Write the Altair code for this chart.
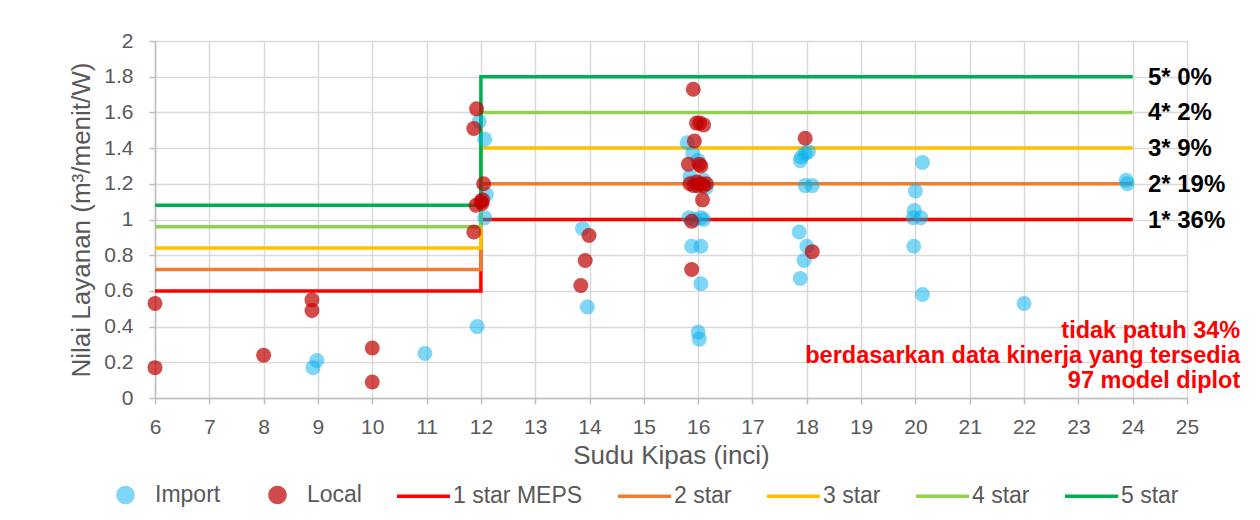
import math
import altair as alt
import pandas as pd

# ---------------- data ----------------
import_x = [8.91, 8.98, 10.97, 11.93, 11.97, 12.07, 12.10, 12.07,
            13.87, 13.96,
            15.80, 15.90, 16.00, 15.85, 16.15, 15.92, 16.10, 15.83, 15.93, 16.05, 16.10,
            15.88, 16.05, 16.05, 16.00, 16.02,
            17.97, 17.90, 17.88, 18.03, 17.97, 18.10, 17.86, 18.00, 17.95, 17.88,
            20.13, 20.00, 19.98, 19.96, 20.10, 19.97, 20.13,
            22.00,
            23.88, 23.90]
import_y = [0.17, 0.21, 0.25, 0.40, 1.55, 1.45, 1.14, 1.01,
            0.95, 0.51,
            1.43, 1.37, 1.33, 1.24, 1.18, 1.21, 1.22, 1.01, 1.00, 1.01, 1.00,
            0.85, 0.85, 0.64, 0.37, 0.33,
            1.37, 1.35, 1.33, 1.38, 1.19, 1.19, 0.93, 0.85, 0.77, 0.67,
            1.32, 1.16, 1.05, 1.01, 1.01, 0.85, 0.58,
            0.53,
            1.22, 1.20]

local_x = [6.00, 6.00, 8.00, 8.89, 8.89, 10.00, 10.00,
           11.92, 11.87, 12.05, 12.00, 12.03, 12.02, 11.91, 11.87,
           13.99, 13.92, 13.84,
           15.91, 15.97, 16.03, 16.10, 15.93, 15.82, 16.02, 16.05, 15.85, 15.92,
           15.98, 16.05, 16.10, 16.15, 16.00, 16.08, 15.88, 15.88,
           17.97, 18.10]
local_y = [0.53, 0.17, 0.24, 0.55, 0.49, 0.28, 0.09,
           1.62, 1.51, 1.20, 1.10, 1.11, 1.09, 1.08, 0.93,
           0.91, 0.77, 0.63,
           1.73, 1.54, 1.54, 1.53, 1.44, 1.31, 1.31, 1.30, 1.20, 1.19,
           1.21, 1.20, 1.19, 1.20, 1.19, 1.11, 0.99, 0.72,
           1.455, 0.82]

point_names = ["Import", "Local"]
point_colors = ["#00B0F0", "#C00000"]
point_opacity = [0.5, 0.7]

star_names = ["1 star MEPS", "2 star", "3 star", "4 star", "5 star"]
star_colors = ["#FF0000", "#ED7D31", "#FFC000", "#92D050", "#00B050"]
small_fan_limit = [0.60, 0.72, 0.84, 0.96, 1.08]   # fans up to 12 inci
large_fan_limit = [1.00, 1.20, 1.40, 1.60, 1.80]   # fans 12 - 24 inci
step_x = [6, 12, 12, 24]
star_labels = ["1* 36%", "2* 19%", "3* 9%", "4* 2%", "5* 0%"]
note_lines = ["tidak patuh 34%", "berdasarkan data kinerja yang tersedia", "97 model diplot"]

x_ticks = list(range(6, 26))
y_ticks = [0, 0.2, 0.4, 0.6, 0.8, 1, 1.2, 1.4, 1.6, 1.8, 2]
x_title = "Sudu Kipas (inci)"
y_title = "Nilai Layanan (m³/menit/W)"

# ---------------- tables ----------------
points = pd.DataFrame({
    "size": import_x + local_x,
    "value": import_y + local_y,
    "series": ["Import"] * len(import_x) + ["Local"] * len(local_x),
})

rows = []
for i, name in enumerate(star_names):
    ys = [small_fan_limit[i], small_fan_limit[i], large_fan_limit[i], large_fan_limit[i]]
    for k, (xv, yv) in enumerate(zip(step_x, ys)):
        rows.append({"size": xv, "value": yv, "series": name, "step": k})
lines = pd.DataFrame(rows)

labels = pd.DataFrame({"value": large_fan_limit, "label": star_labels})

FONT = "Liberation Sans"
GREY = "#595959"

x_scale = alt.Scale(domain=[6, 25], nice=False, zero=False)
y_scale = alt.Scale(domain=[0, 2], nice=False, zero=False)
x_axis = alt.Axis(values=x_ticks, labelFlush=False, tickSize=6, labelPadding=12,
                  titlePadding=5, labelOverlap=False)
y_axis = alt.Axis(values=y_ticks, labelExpr="format(datum.value, '~g')", tickSize=6,
                  labelPadding=16, titlePadding=9, labelOverlap=False)


def xf(field):
    return alt.X(field, type="quantitative", scale=x_scale, axis=x_axis, title=x_title)


def yf(field):
    return alt.Y(field, type="quantitative", scale=y_scale, axis=y_axis, title=y_title)


# legend: circle path for the point entries, stroke for the lines
r = 0.283
n = 36
circle_path = "M" + "L".join(
    f"{r*math.cos(2*math.pi*k/n):.4f},{r*math.sin(2*math.pi*k/n):.4f}" for k in range(n)) + "Z"
is_pt = "(datum.value === 'Import' || datum.value === 'Local')"

legend = alt.Legend(
    title=None, orient="none", direction="horizontal", legendX=-58, legendY=425.5,
    symbolSize=2809, symbolStrokeWidth=3.5, symbolOffset=0,
    symbolType={"expr": f"{is_pt} ? '{circle_path}' : 'stroke'"},
    symbolFillColor={"expr": f"{is_pt} ? scale('color', datum.value) : 'transparent'"},
    symbolStrokeColor={"expr": f"{is_pt} ? 'transparent' : scale('color', datum.value)"},
    symbolOpacity={"expr": "datum.value === 'Import' ? 0.5 : (datum.value === 'Local' ? 0.7 : 1)"},
    labelFont=FONT, labelFontSize=23, labelColor=GREY, labelOffset=1, labelLimit=0,
    columnPadding=28, padding=0,
)

color = alt.Color("series:N",
                  scale=alt.Scale(domain=point_names + star_names, range=point_colors + star_colors),
                  legend=legend)

line_layer = alt.Chart(lines).mark_line(strokeWidth=3.5, strokeJoin="miter", strokeCap="butt").encode(
    x=xf("size"), y=yf("value"), color=color, order=alt.Order("step:Q"), detail="series:N")

point_layer = alt.Chart(points).mark_circle(size=225).encode(
    x=xf("size"), y=yf("value"), color=color,
    opacity=alt.Opacity("series:N", scale=alt.Scale(domain=point_names, range=point_opacity), legend=None))

label_layer = alt.Chart(labels).mark_text(
    align="left", baseline="middle", font=FONT, fontSize=24, fontWeight="bold", color="black", dy=1
).encode(
    x=alt.XDatum(24.28, type="quantitative", scale=x_scale, axis=x_axis, title=x_title),
    y=yf("value"), text="label:N")

note_layer = alt.Chart(pd.DataFrame({"n": [0]})).mark_text(
    align="right", baseline="middle", font=FONT, fontSize=23.5, fontWeight="bold", color="#FF0000",
    lineHeight=25, text=note_lines
).encode(
    x=alt.XDatum(25.98, type="quantitative", scale=x_scale, axis=x_axis, title=x_title),
    y=alt.YDatum(0.375, type="quantitative", scale=y_scale, axis=y_axis, title=y_title))

chart = alt.layer(line_layer, point_layer, label_layer, note_layer).properties(
    width=1032, height=357,
    autosize=alt.AutoSizeParams(type="none"),
    padding={"left": 147, "top": 33, "right": 60, "bottom": 110},
).configure_axis(
    labelFont=FONT, titleFont=FONT, labelFontSize=21, titleFontSize=26, titleFontWeight="normal",
    labelColor=GREY, titleColor=GREY, gridColor="#D9D9D9", gridWidth=1.5,
    domainColor="#BFBFBF", tickColor="#BFBFBF", domainWidth=1.5, tickWidth=1.5,
).configure_view(stroke=None)

chart.save("out.html", embed_options={"renderer": "svg", "actions": False})
